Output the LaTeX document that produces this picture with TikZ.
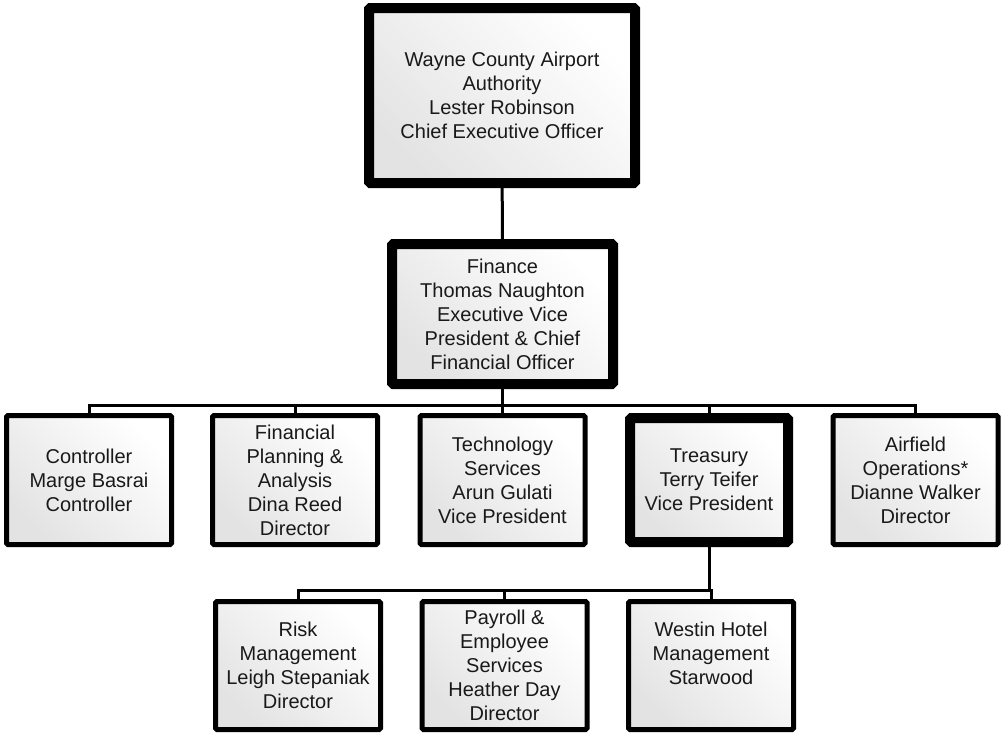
\documentclass[tikz,border=0pt]{standalone}
\usepackage{fontspec}
\setmainfont{Liberation Sans}
\usetikzlibrary{positioning}

\begin{document}
\begin{tikzpicture}[x=1pt,y=-1pt,font=\fontsize{20}{24}\selectfont,
 unit/.style={draw=black,line width=5pt,rounded corners=1.5pt,align=center,inner sep=0pt,
  text=black!90,left color=black!11,right color=white,shading angle=135,
  minimum width=165pt,minimum height=129pt},
 head/.style={unit,line width=10pt},
 wire/.style={line width=3pt,draw=black}]
\useasboundingbox (0,0) rectangle (1003,734);
% top of the chart
\node[head,minimum width=266pt,minimum height=175pt] (ceo) at (502,95.5)
 {Wayne County Airport\\Authority\\Lester Robinson\\Chief Executive Officer};
\node[head,minimum width=221pt,minimum height=140pt] (fin) at (502.5,314)
 {Finance\\Thomas Naughton\\Executive Vice\\President \& Chief\\Financial Officer};
% second level
\node[unit] (ctl) at (89,480) {Controller\\Marge Basrai\\Controller};
\node[unit] (fpa) at (295,480) {Financial\\Planning \&\\Analysis\\Dina Reed\\Director};
\node[unit] (tech) at (502.5,480) {Technology\\Services\\Arun Gulati\\Vice President};
\node[head,minimum width=158pt,minimum height=124pt] (tre) at (709,480)
 {Treasury\\Terry Teifer\\Vice President};
\node[unit] (air) at (915.5,480) {Airfield\\Operations*\\Dianne Walker\\Director};
% third level
\node[unit,minimum height=128pt] (risk) at (298,665.5)
 {Risk\\Management\\Leigh Stepaniak\\Director};
\node[unit,minimum height=128pt] (pay) at (504.5,665.5)
 {Payroll \&\\Employee\\Services\\Heather Day\\Director};
\node[unit,minimum height=128pt] (wes) at (711,665.5)
 {Westin Hotel\\Management\\Starwood\\\mbox{}};
% connectors
\coordinate (bus2) at (0,405);
\coordinate (bus3) at (0,590);
\draw[wire] (ceo) -- (fin);
\draw[wire] (fin) -- (fin.south |- bus2);
\foreach \n in {ctl,fpa,tech,tre,air}
 \draw[wire] (\n.north) |- (fin.south |- bus2);
\draw[wire] (tre) -- (tre.south |- bus3);
\foreach \n in {risk,pay,wes}
 \draw[wire] (\n.north) |- (tre.south |- bus3);
\end{tikzpicture}
\end{document}
